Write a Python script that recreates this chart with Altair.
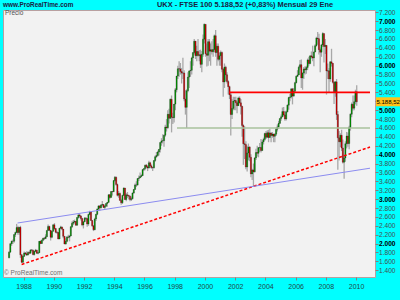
import altair as alt
import pandas as pd

# ---------------- data (monthly FTSE 100, Jan 1987 - Jan 2010) ----------------
first_open = 1679
years = list(range(1987, 2011))

closes = [
    [1808, 1997, 2050, 2054, 2203, 2248, 2360, 2250, 2366, 1749, 1580, 1713],
    [1790, 1769, 1745, 1802, 1784, 1857, 1853, 1753, 1826, 1852, 1783, 1793],
    [2052, 2002, 2075, 2119, 2114, 2152, 2297, 2387, 2299, 2143, 2276, 2423],
    [2338, 2255, 2248, 2104, 2345, 2375, 2326, 2163, 1990, 2050, 2149, 2144],
    [2170, 2380, 2457, 2486, 2500, 2415, 2588, 2645, 2621, 2566, 2420, 2493],
    [2571, 2562, 2440, 2654, 2708, 2521, 2400, 2313, 2553, 2658, 2779, 2847],
    [2807, 2868, 2878, 2813, 2840, 2900, 2927, 3100, 3038, 3171, 3166, 3418],
    [3491, 3328, 3086, 3126, 2970, 2919, 3082, 3251, 2991, 3097, 3081, 3066],
    [2992, 3010, 3137, 3217, 3320, 3315, 3463, 3477, 3508, 3529, 3664, 3689],
    [3760, 3728, 3699, 3818, 3747, 3711, 3703, 3867, 3953, 3980, 4058, 4119],
    [4275, 4309, 4313, 4436, 4621, 4604, 4907, 4818, 5244, 4842, 4831, 5136],
    [5458, 5767, 5932, 5928, 5870, 5833, 5837, 5249, 5064, 5438, 5743, 5883],
    [5896, 6175, 6295, 6552, 6226, 6319, 6231, 6246, 6030, 6255, 6597, 6930],
    [6269, 6232, 6540, 6327, 6359, 6313, 6365, 6673, 6294, 6438, 6142, 6222],
    [6298, 5918, 5634, 5967, 5796, 5643, 5529, 5345, 4903, 5040, 5204, 5217],
    [5164, 5101, 5272, 5165, 5086, 4656, 4246, 4227, 3722, 4039, 4169, 3940],
    [3567, 3656, 3613, 3926, 4048, 4031, 4157, 4161, 4091, 4287, 4342, 4477],
    [4390, 4492, 4386, 4489, 4431, 4464, 4413, 4459, 4571, 4624, 4703, 4814],
    [4852, 4968, 4894, 4801, 4964, 5113, 5282, 5297, 5478, 5317, 5423, 5619],
    [5760, 5792, 5965, 6023, 5724, 5833, 5928, 5906, 5961, 6129, 6049, 6221],
    [6203, 6172, 6308, 6449, 6621, 6608, 6360, 6303, 6467, 6722, 6432, 6457],
    [5880, 5884, 5702, 6087, 6053, 5626, 5412, 5637, 4902, 4377, 4288, 4434],
    [4150, 3830, 3926, 4244, 4418, 4249, 4608, 4909, 5134, 5045, 5190, 5413],
    [5188.52],
]
highs = [
    [1830, 2010, 2070, 2090, 2210, 2270, 2443, 2400, 2370, 2400, 1760, 1720],
    [1820, 1810, 1830, 1820, 1830, 1870, 1880, 1860, 1830, 1880, 1860, 1810],
    [2060, 2070, 2090, 2130, 2150, 2210, 2300, 2430, 2400, 2300, 2280, 2430],
    [2460, 2350, 2290, 2260, 2350, 2400, 2380, 2330, 2170, 2120, 2170, 2200],
    [2190, 2390, 2500, 2530, 2540, 2510, 2600, 2660, 2680, 2640, 2580, 2500],
    [2600, 2600, 2570, 2670, 2740, 2720, 2530, 2410, 2580, 2670, 2790, 2860],
    [2860, 2890, 2960, 2890, 2870, 2910, 2930, 3100, 3110, 3180, 3180, 3420],
    [3520, 3510, 3350, 3180, 3150, 3010, 3100, 3260, 3250, 3140, 3160, 3100],
    [3080, 3060, 3150, 3230, 3350, 3400, 3470, 3530, 3600, 3560, 3670, 3690],
    [3780, 3790, 3760, 3860, 3840, 3780, 3730, 3880, 3980, 4060, 4090, 4120],
    [4280, 4370, 4460, 4450, 4670, 4800, 5000, 5030, 5260, 5330, 4940, 5140],
    [5500, 5770, 6000, 6100, 6060, 5950, 6180, 5900, 5450, 5470, 5850, 5890],
    [6100, 6200, 6300, 6600, 6550, 6450, 6600, 6350, 6360, 6330, 6700, 6950],
    [6930, 6500, 6600, 6600, 6500, 6550, 6600, 6700, 6800, 6500, 6500, 6300],
    [6340, 6320, 5950, 6050, 6000, 5850, 5670, 5550, 5400, 5250, 5300, 5300],
    [5300, 5200, 5300, 5310, 5250, 5100, 4680, 4640, 4300, 4200, 4250, 4190],
    [4010, 3680, 3800, 3940, 4130, 4200, 4170, 4260, 4350, 4330, 4380, 4490],
    [4530, 4550, 4560, 4580, 4500, 4510, 4470, 4480, 4610, 4680, 4760, 4820],
    [4900, 5060, 5070, 4980, 4990, 5130, 5300, 5370, 5500, 5500, 5500, 5640],
    [5780, 5900, 6000, 6130, 6140, 5850, 5970, 5990, 6000, 6160, 6200, 6230],
    [6320, 6450, 6320, 6480, 6650, 6760, 6720, 6410, 6490, 6751, 6700, 6600],
    [6460, 6050, 5950, 6100, 6380, 6060, 5650, 5650, 5700, 4980, 4530, 4480],
    [4560, 4340, 4000, 4300, 4510, 4500, 4650, 4930, 5170, 5330, 5330, 5460],
    [5560],
]
lows = [
    [1670, 1800, 1950, 1990, 2020, 2150, 2240, 2200, 2200, 1680, 1565, 1570],
    [1700, 1740, 1720, 1730, 1760, 1770, 1820, 1740, 1730, 1810, 1770, 1760],
    [1790, 1990, 1990, 2050, 2080, 2100, 2150, 2290, 2280, 2070, 2120, 2270],
    [2310, 2230, 2220, 2100, 2100, 2320, 2300, 2120, 1990, 1980, 2030, 2120],
    [2050, 2170, 2350, 2420, 2450, 2400, 2400, 2560, 2580, 2520, 2390, 2340],
    [2480, 2530, 2380, 2400, 2640, 2510, 2380, 2281, 2300, 2510, 2640, 2740],
    [2740, 2790, 2840, 2800, 2780, 2830, 2830, 2920, 3010, 3040, 3080, 3160],
    [3390, 3300, 3060, 3030, 2970, 2876, 2890, 3080, 2980, 2950, 3030, 2990],
    [2950, 2960, 2990, 3120, 3210, 3270, 3310, 3410, 3490, 3490, 3520, 3630],
    [3650, 3690, 3630, 3690, 3700, 3680, 3630, 3690, 3840, 3930, 3960, 3980],
    [4050, 4200, 4250, 4180, 4400, 4520, 4580, 4700, 4800, 4500, 4690, 4720],
    [5000, 5400, 5700, 5750, 5800, 5600, 5700, 5200, 4900, 4600, 5400, 5500],
    [5750, 5800, 6000, 6250, 6150, 6100, 6200, 6100, 5950, 5850, 6200, 6500],
    [6200, 5980, 6000, 6100, 6000, 6250, 6200, 6300, 6200, 6000, 6100, 6000],
    [6000, 5850, 5300, 5500, 5650, 5600, 5350, 5250, 4430, 4800, 5000, 5000],
    [5000, 4930, 5100, 5150, 4900, 4400, 3770, 3900, 3670, 3620, 3870, 3850],
    [3490, 3430, 3277, 3600, 3880, 3960, 3940, 4060, 4050, 4090, 4230, 4310],
    [4350, 4380, 4280, 4380, 4280, 4380, 4280, 4280, 4420, 4520, 4580, 4690],
    [4760, 4840, 4860, 4760, 4770, 4950, 5010, 5200, 5260, 5130, 5300, 5420],
    [5600, 5750, 5790, 5910, 5500, 5460, 5700, 5800, 5820, 5900, 6000, 6030],
    [6160, 6100, 5990, 6300, 6430, 6470, 6250, 5850, 6200, 6420, 6070, 6260],
    [5350, 5700, 5410, 5640, 5980, 5600, 5140, 5300, 4780, 3660, 3870, 4170],
    [4080, 3800, 3460, 3840, 4140, 4180, 4120, 4540, 4840, 4990, 5000, 5130],
    [5100],
]

# support / resistance lines
h_levels = [5400, 4600]
h_starts = [2001.6, 1998.15]
h_colors = ["#FF0000", "#A8C29C"]

trend_x1 = [1987.87, 1987.6]
trend_y1 = [1530, 2463]
trend_x2 = [2010.92, 2010.92]
trend_y2 = [4170, 3695]

y_ticks = list(range(1400, 7201, 200))
x_ticks = list(range(1988, 2011, 2))
last_price = 5188.52

# ---------------- build table ----------------
rows = []
prev = first_open
for yi, yr in enumerate(years):
    for m, c in enumerate(closes[yi]):
        o = prev
        rows.append(dict(
            t=yr + m / 12 + 1 / 24,
            open=o, close=c,
            high=max(highs[yi][m], o, c),
            low=min(lows[yi][m], o, c),
            up="up" if c >= o else "down",
        ))
        prev = c
df = pd.DataFrame(rows)

X_DOM = [1986.97, 2010.92]
Y_DOM = [1249, 7252]
FONT = "Liberation Sans"

xs = alt.Scale(domain=X_DOM, nice=False, zero=False)
ys = alt.Scale(domain=Y_DOM, nice=False, zero=False)

x_axis = alt.Axis(values=x_ticks, format="d", orient="bottom", grid=False,
                  domain=False, tickSize=3, tickColor="#808080",
                  labelFontSize=7, labelColor="#204848", labelFont=FONT,
                  labelPadding=2, labelOverlap=False, labelFlush=False, title=None)
y_axis = alt.Axis(values=y_ticks, orient="right", grid=False, domain=False,
                  tickSize=3, tickColor="#808080", labelFont=FONT,
                  labelFontSize=6.6, labelPadding=0.5, labelOverlap=False, labelFlush=False,
                  labelExpr="datum.value == 5200 ? '' : replace(format(datum.value, ','), ',', '.')",
                  labelFontWeight={"condition": {"test": "datum.value % 1000 === 0", "value": "bold"}, "value": "normal"},
                  labelColor={"condition": {"test": "datum.value % 1000 === 0", "value": "#000000"}, "value": "#405050"},
                  title=None)

def X(f):
    return alt.X(f, type="quantitative", scale=xs, axis=x_axis)

def Y(f):
    return alt.Y(f, type="quantitative", scale=ys, axis=y_axis)

base = alt.Chart(df)

wicks = base.mark_rule(color="#A8A8A8", strokeWidth=1.3, clip=True).encode(
    x=X("t"), y=Y("low"), y2="high:Q",
)

bodies = base.mark_bar(size=1.2, stroke="#000000", strokeWidth=0.25, clip=True).encode(
    x=X("t"), y=Y("open"), y2="close:Q",
    color=alt.Color("up:N", scale=alt.Scale(domain=["up", "down"], range=["#00A000", "#E00000"]), legend=None),
)

hdf = pd.DataFrame({"x1": h_starts, "x2": [X_DOM[1]] * 2, "y": h_levels, "c": h_colors})
hlines = alt.Chart(hdf).mark_rule(strokeWidth=1.6, clip=True).encode(
    x=X("x1"), x2="x2:Q", y=Y("y"),
    color=alt.Color("c:N", scale=None),
)

tdf = pd.DataFrame({"x1": trend_x1, "y1": trend_y1, "x2": trend_x2, "y2": trend_y2})
red_trend = alt.Chart(tdf.iloc[[0]]).mark_rule(color="#FF0000", strokeWidth=1.5, strokeDash=[3, 2], clip=True).encode(
    x=X("x1"), x2="x2:Q", y=Y("y1"), y2="y2:Q")
blue_trend = alt.Chart(tdf.iloc[[1]]).mark_rule(color="#8C8CF0", strokeWidth=1, clip=True).encode(
    x=X("x1"), x2="x2:Q", y=Y("y1"), y2="y2:Q")

# price badge on right axis
pdf = pd.DataFrame({"p": [last_price], "lbl": ["5.188,52"]})
badge = alt.Chart(pdf).mark_rect(color="#FFC21A", yOffset=-4.5, y2Offset=4.5).encode(
    x=alt.value(373), x2=alt.value(397), y=Y("p"), y2="p:Q")
badge_txt = alt.Chart(pdf).mark_text(align="left", baseline="middle", font=FONT, fontSize=6, color="#000000").encode(
    x=alt.value(373.5), y=Y("p"), text="lbl:N")

tdat = pd.DataFrame({"a": [0]})
def txt(s, x, y, size=7, weight="normal", color="#000030", align="left"):
    return alt.Chart(tdat).mark_text(text=s, align=align, baseline="middle", font=FONT,
                                     fontSize=size, fontWeight=weight, color=color).encode(
        x=alt.value(x), y=alt.value(y))

texts = [
    txt("www.ProRealTime.com", 0, -5, size=6.4, weight="bold", color="#1A2040"),
    txt("UKX - FTSE 100    5.188,52 (+0,83%)    Mensual  29 Ene", 154, -5, size=7.4, weight="bold", color="#1A2040"),
    txt("Precio", 2, 3, size=6.5, color="#505050"),
    txt("\u00a9 ProRealTime.com", 1, 263, size=6.5, color="#707070"),
]

chart = alt.layer(wicks, bodies, hlines, red_trend, blue_trend, badge, badge_txt, *texts).properties(
    width=372, height=267,
    padding={"left": 3, "top": 10, "right": 25, "bottom": 23},
    autosize=alt.AutoSizeParams(type="none"),
    background="#00FFFF",
).configure_view(
    fill="#F2F2F2", stroke="#B8A0A0", strokeWidth=1
).configure_axis(labelOverlap=False)

chart.save("out.html", embed_options={"renderer": "svg", "actions": False})
